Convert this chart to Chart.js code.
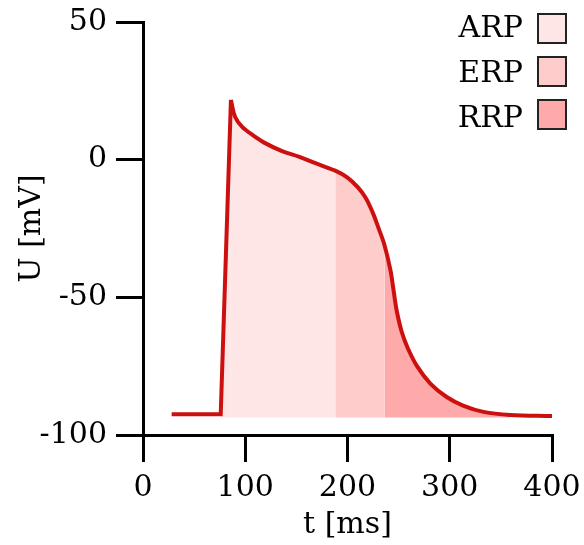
<!DOCTYPE html>
<html>
<head>
<meta charset="utf-8">
<script src="https://cdn.jsdelivr.net/npm/chart.js@4.4.1/dist/chart.umd.min.js"></script>
<style>
  html, body { margin: 0; padding: 0; background: #fff; }
  #wrap { width: 584px; height: 545px; position: relative; }
</style>
</head>
<body>
<div id="wrap"><canvas id="apChart"></canvas></div>
<script>
// action potential
const timeMs  = [28, 76, 86, 90, 97, 107, 119, 136, 153, 168, 188, 200, 210, 218, 225, 230, 236, 242, 245, 248, 253, 259, 268, 281, 297, 313, 333, 359, 400];
const voltage = [-92.5, -92.5, 21.7, 15.6, 11.9, 9.0, 6.1, 3.1, 1.0, -1.2, -4.0, -6.5, -10.0, -14.0, -19.5, -24.5, -30.8, -40.1, -47.3, -54.6, -62.5, -68.5, -75.0, -81.3, -86.2, -89.3, -91.6, -92.7, -93.1];
const peakTime = 86;

// refractory periods
const phaseNames = ["ARP", "ERP", "RRP"];
const phaseStart = [76, 188, 236];
const phaseEnd   = [188, 236, 359];
const phaseColors = ["#FFE6E6", "#FFCCCC", "#FFAAAA"];
const fillBase = -93.6;

const xTicks = [0, 100, 200, 300, 400];
const yTicks = [-100, -50, 0, 50];

const lineColor = "#CC1010";
const font = "DejaVu Serif";
const smooth = 0.35;

const points = timeMs.map((t, i) => ({ x: t, y: voltage[i] }));
const inRange = (a, b) => points.filter(p => p.x >= a && p.x <= b);

const datasets = [];

// fills: the upstroke is straight, the rest smooth
phaseNames.forEach((name, i) => {
  const fillOpts = { fill: { value: fillBase }, backgroundColor: phaseColors[i], borderColor: "transparent", borderWidth: 0, pointRadius: 0, order: 2 };
  if (phaseStart[i] < peakTime) {
    datasets.push({ ...fillOpts, data: inRange(phaseStart[i], peakTime), tension: 0 });
    datasets.push({ ...fillOpts, data: inRange(peakTime, phaseEnd[i]), tension: smooth });
  } else {
    datasets.push({ ...fillOpts, data: inRange(phaseStart[i], phaseEnd[i]), tension: smooth });
  }
});

datasets.push({
  data: inRange(0, peakTime),
  borderColor: lineColor, borderWidth: 4, pointRadius: 0, tension: 0,
  fill: false, borderJoinStyle: "miter", order: 0
});
datasets.push({
  data: inRange(peakTime, 400),
  borderColor: lineColor, borderWidth: 4, pointRadius: 0,
  tension: smooth, fill: false, order: 0
});

const legendBoxes = {
  id: "legendBoxes",
  afterDraw(chart) {
    const c = chart.ctx;
    c.save();
    c.font = "30px '" + font + "'";
    c.textAlign = "right";
    c.textBaseline = "alphabetic";
    phaseNames.forEach((name, i) => {
      const top = 14 + i * 43;
      c.fillStyle = "#000";
      c.fillText(name, 523, 37 + i * 45);
      c.fillStyle = phaseColors[i];
      c.fillRect(538, top, 28, 29);
      c.strokeStyle = "#222";
      c.lineWidth = 2;
      c.strokeRect(538, top, 28, 29);
    });
    c.restore();
  }
};

new Chart(document.getElementById("apChart"), {
  type: "line",
  data: { datasets },
  options: {
    responsive: true,
    maintainAspectRatio: false,
    animation: false,
    layout: { padding: { top: 22, right: 32, bottom: 0, left: 0 } },
    plugins: { legend: { display: false }, tooltip: { enabled: false } },
    scales: {
      x: {
        type: "linear", min: 0, max: 400,
        afterBuildTicks: s => { s.ticks = xTicks.map(v => ({ value: v })); },
        afterFit: s => { s.height = 110; s.paddingLeft = 0; s.paddingRight = 0; },
        grid: { drawOnChartArea: false, drawTicks: true, tickLength: 27, lineWidth: 3, color: "#000" },
        border: { display: true, width: 3, color: "#000" },
        ticks: { color: "#000", padding: 8, font: { family: font, size: 30 }, maxRotation: 0 },
        title: { display: true, text: "t [ms]", color: "#000", font: { family: font, size: 30 }, padding: { top: 0, bottom: 2 } }
      },
      y: {
        min: -100, max: 50,
        afterBuildTicks: s => { s.ticks = yTicks.map(v => ({ value: v })); },
        afterFit: s => { s.width = 143; s.paddingTop = 0; s.paddingBottom = 0; },
        grid: { drawOnChartArea: false, drawTicks: true, tickLength: 27, lineWidth: 3, color: "#000" },
        border: { display: true, width: 3, color: "#000" },
        ticks: { color: "#000", padding: 9, font: { family: font, size: 30 } },
        title: { display: true, text: "U [mV]", color: "#000", font: { family: font, size: 30 }, padding: { top: 14, bottom: 0 } }
      }
    }
  },
  plugins: [legendBoxes]
});
</script>
</body>
</html>
